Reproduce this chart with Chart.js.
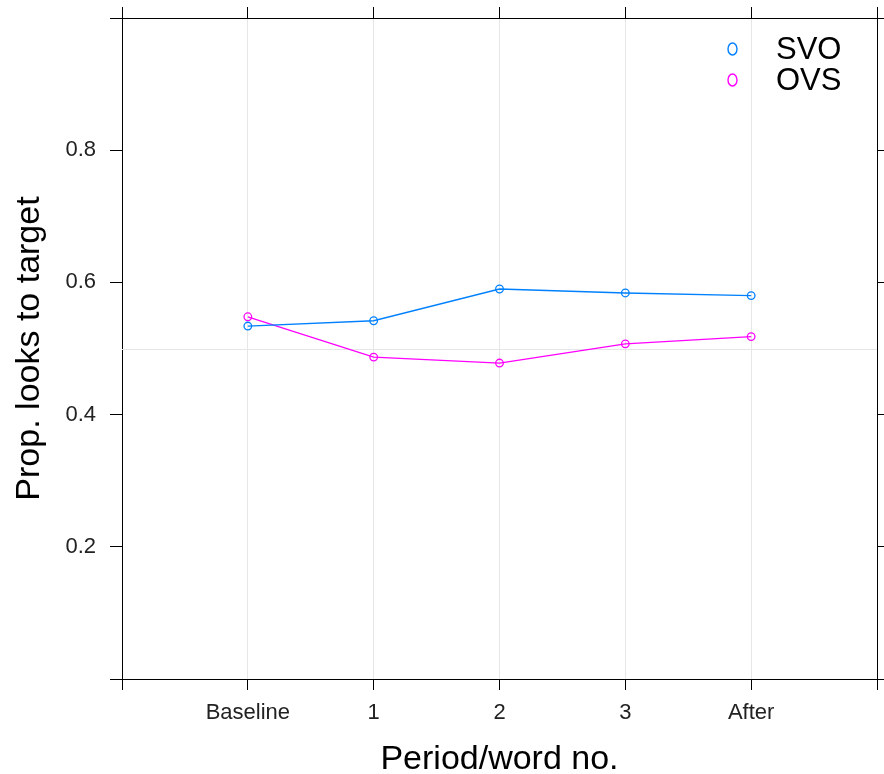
<!DOCTYPE html>
<html>
<head>
<meta charset="utf-8">
<title>Prop. looks to target</title>
<script src="https://cdn.jsdelivr.net/npm/chart.js@4.4.1/dist/chart.umd.min.js"></script>
<style>
  html, body { margin: 0; padding: 0; background: #fff; }
  #wrap { width: 884px; height: 774px; }
</style>
</head>
<body>
<div id="wrap"><canvas id="grafico" width="884" height="774"></canvas></div>
<script>
// Periodos del eje x y proporciones por condición
const periodos = ['Baseline', '1', '2', '3', 'After'];
const svo = [0.534, 0.542, 0.590, 0.584, 0.580];
const ovs = [0.548, 0.487, 0.478, 0.507, 0.518];
const yTicks = [0.2, 0.4, 0.6, 0.8];

const colorSVO = '#0080ff';
const colorOVS = '#ff00ff';
const fuente = '"Liberation Sans", Arial, sans-serif';

// Los periodos se colocan en x = 1..5, el eje va de 0 a 6
function puntos(valores) {
    return valores.map((v, i) => ({ x: i + 1, y: v }));
}

// Tamaño fijo de cada eje, sin el relleno extra de las etiquetas
function fijar(ancho, alto) {
    return function (scale) {
        if (ancho !== null) scale.width = ancho;
        if (alto !== null) scale.height = alto;
        scale.paddingTop = 0;
        scale.paddingBottom = 0;
        scale.paddingLeft = 0;
        scale.paddingRight = 0;
    };
}

// Línea de referencia en 0.5 y leyenda arriba a la derecha
const extras = {
    id: 'extras',
    beforeDatasetsDraw(chart) {
        const { ctx, chartArea, scales } = chart;
        const y = Math.round(scales.y.getPixelForValue(0.5)) + 0.5;
        ctx.save();
        ctx.strokeStyle = '#e6e6e6';
        ctx.lineWidth = 1;
        ctx.beginPath();
        ctx.moveTo(chartArea.left, y);
        ctx.lineTo(chartArea.right, y);
        ctx.stroke();
        ctx.restore();
    },
    afterDraw(chart) {
        const ctx = chart.ctx;
        const items = [
            { texto: 'SVO', color: colorSVO, y: 49 },
            { texto: 'OVS', color: colorOVS, y: 80 }
        ];
        ctx.save();
        items.forEach(it => {
            ctx.strokeStyle = it.color;
            ctx.lineWidth = 1.4;
            ctx.beginPath();
            ctx.ellipse(732.5, it.y, 4.5, 6, 0, 0, Math.PI * 2);
            ctx.stroke();
            ctx.fillStyle = '#000';
            ctx.font = '31px ' + fuente;
            ctx.textBaseline = 'alphabetic';
            ctx.textAlign = 'left';
            ctx.fillText(it.texto, 776, it.y + 10);
        });
        ctx.restore();
    }
};

const ejeComun = {
    type: 'linear',
    border: { display: true, color: '#000', width: 1 }
};

const ctx = document.getElementById('grafico').getContext('2d');
const grafico = new Chart(ctx, {
    type: 'line',
    data: {
        datasets: [
            {
                label: 'SVO',
                data: puntos(svo),
                borderColor: colorSVO,
                backgroundColor: 'transparent',
                borderWidth: 1.3,
                pointRadius: 3.8,
                pointBorderWidth: 1.3,
                pointBackgroundColor: 'transparent',
                pointBorderColor: colorSVO,
                tension: 0
            },
            {
                label: 'OVS',
                data: puntos(ovs),
                borderColor: colorOVS,
                backgroundColor: 'transparent',
                borderWidth: 1.3,
                pointRadius: 3.8,
                pointBorderWidth: 1.3,
                pointBackgroundColor: 'transparent',
                pointBorderColor: colorOVS,
                tension: 0
            }
        ]
    },
    options: {
        responsive: false,
        animation: false,
        events: [],
        layout: { padding: 0 },
        plugins: {
            legend: { display: false },
            tooltip: { enabled: false }
        },
        scales: {
            x: {
                ...ejeComun,
                position: 'bottom',
                min: 0,
                max: 6,
                afterFit: fijar(null, 95),
                ticks: {
                    stepSize: 1,
                    autoSkip: false,
                    maxRotation: 0,
                    padding: 10,
                    color: '#222',
                    font: { family: fuente, size: 22 },
                    callback: v => periodos[v - 1] || ''
                },
                grid: {
                    color: c => (c.tick.value > 0 && c.tick.value < 6) ? '#e6e6e6' : 'transparent',
                    tickColor: '#000',
                    tickLength: 11
                },
                title: {
                    display: true,
                    text: 'Period/word no.',
                    color: '#000',
                    font: { family: fuente, size: 34, lineHeight: 1 },
                    padding: { top: 0, bottom: -3 }
                }
            },
            x2: {
                ...ejeComun,
                position: 'top',
                min: 0,
                max: 6,
                afterFit: fijar(null, 18),
                ticks: { stepSize: 1, autoSkip: false, callback: () => '' },
                grid: { drawOnChartArea: false, tickColor: '#000', tickLength: 11 }
            },
            y: {
                ...ejeComun,
                position: 'left',
                min: 0,
                max: 1,
                afterFit: fijar(122, null),
                afterBuildTicks(scale) {
                    scale.ticks = [0].concat(yTicks, [1]).map(v => ({ value: v }));
                },
                ticks: {
                    padding: 14,
                    color: '#222',
                    font: { family: fuente, size: 22 },
                    callback: v => yTicks.includes(v) ? v.toFixed(1) : ''
                },
                grid: { drawOnChartArea: false, tickColor: '#000', tickLength: 12 },
                title: {
                    display: true,
                    text: 'Prop. looks to target',
                    color: '#000',
                    font: { family: fuente, size: 34, lineHeight: 1 },
                    padding: { top: 13, bottom: 0 }
                }
            },
            y2: {
                ...ejeComun,
                position: 'right',
                min: 0,
                max: 1,
                afterFit: fijar(7, null),
                afterBuildTicks(scale) {
                    scale.ticks = [0].concat(yTicks, [1]).map(v => ({ value: v }));
                },
                ticks: { callback: () => '' },
                grid: { drawOnChartArea: false, tickColor: '#000', tickLength: 11 }
            }
        }
    },
    plugins: [extras]
});
</script>
</body>
</html>
